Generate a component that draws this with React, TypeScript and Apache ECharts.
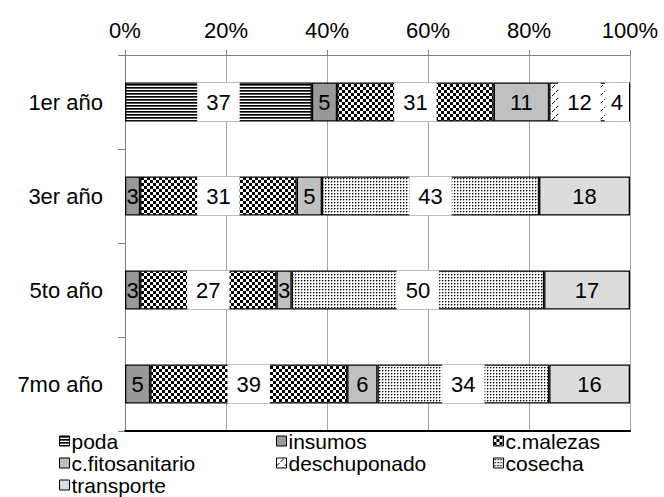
import React, { useEffect, useRef } from "react";
import * as echarts from "echarts";

const categories = ["1er año", "3er año", "5to año", "7mo año"];
const poda = [37, 0, 0, 0];
const insumos = [5, 3, 3, 5];
const cMalezas = [31, 31, 27, 39];
const cFitosanitario = [11, 5, 3, 6];
const deschuponado = [12, 0, 0, 0];
const cosecha = [4, 43, 50, 34];
const transporte = [0, 18, 17, 16];

// legend layout: three columns, items listed column by column
const legendColumns = [
  ["poda", "c.fitosanitario", "transporte"],
  ["insumos", "deschuponado"],
  ["c.malezas", "cosecha"],
];

const FONT = 'Arial, "Liberation Sans", sans-serif';

// Small bitmap tiles used as repeating fills; the callback returns a pixel colour or null
function tile(w: number, h: number, pixel: (x: number, y: number) => string | null) {
  const c = document.createElement("canvas");
  c.width = w;
  c.height = h;
  const ctx = c.getContext("2d")!;
  ctx.fillStyle = "#fff";
  ctx.fillRect(0, 0, w, h);
  for (let y = 0; y < h; y++)
    for (let x = 0; x < w; x++) {
      const col = pixel(x, y);
      if (col) {
        ctx.fillStyle = col;
        ctx.fillRect(x, y, 1, 1);
      }
    }
  return { image: c, repeat: "repeat" as const };
}

export default function App() {
  const ref = useRef<HTMLDivElement>(null);

  useEffect(() => {
    if (!ref.current) return;
    const chart = echarts.init(ref.current, null, { renderer: "svg" });

    const stripes = tile(4, 3, (_x, y) => (y === 0 ? "#000" : y === 1 ? "#555" : null));
    const checker = tile(6, 6, (x, y) =>
      (Math.floor(x / 3) + Math.floor(y / 3)) % 2 === 0 ? "#000" : null
    );
    const dots = tile(3, 3, (x, y) =>
      x === 1 && y === 1 ? "#000" : (x === 2 && y === 1) || (x === 1 && y === 2) ? "#999" : null
    );
    const hatch = tile(8, 8, (x, y) => (x + y === 7 && x % 4 !== 3 ? "#000" : null));

    const labelFor = (white: boolean) => ({
      show: true,
      position: "inside" as const,
      color: "#000",
      fontFamily: FONT,
      fontSize: 22,
      lineHeight: 22,
      backgroundColor: white ? "#fff" : "transparent",
      padding: [8, 9, 9, 9],
      formatter: (p: any) => `${p.value}`,
    });

    const mk = (name: string, values: number[], color: any, white: boolean) => ({
      name,
      type: "bar" as const,
      stack: "total",
      barWidth: 39,
      data: values.map((v) =>
        v === 0
          ? null
          : v < 6 && white
          ? { value: v, label: { padding: [8, 6, 9, 6], offset: [-3, 0] } }
          : v
      ),
      itemStyle: { color, borderColor: "#000", borderWidth: 1.3 },
      label: labelFor(white),
    });

    const colLeft = [59, 276, 493];
    const rowTop = [430, 452, 474];
    const legends: any[] = [];
    legendColumns.forEach((names, c) =>
      names.forEach((name, r) =>
        legends.push({
          data: [name],
          left: colLeft[c],
          top: rowTop[r],
          padding: 0,
          itemWidth: 10,
          itemHeight: 10,
          icon: "rect",
          selectedMode: false,
          itemStyle: { borderColor: "#000", borderWidth: 1 },
          textStyle: {
            fontFamily: FONT,
            fontSize: 21,
            lineHeight: 22,
            color: "#000",
            padding: [0, 0, 0, -3],
          },
        })
      )
    );

    chart.setOption({
      animation: false,
      backgroundColor: "#fff",
      grid: { left: 125, right: 34, top: 55, bottom: 66, containLabel: false },
      legend: legends,
      xAxis: [
        {
          type: "value",
          position: "top",
          min: 0,
          max: 100,
          interval: 20,
          axisLine: { show: true, lineStyle: { color: "#808080", width: 1 } },
          axisTick: { show: true, length: 5, lineStyle: { color: "#808080" } },
          axisLabel: {
            formatter: "{value}%",
            fontFamily: FONT,
            fontSize: 22,
            color: "#000",
            margin: 14,
          },
          splitLine: { show: true, lineStyle: { color: "#a6a6a6", width: 1 } },
        },
        {
          type: "value",
          position: "bottom",
          min: 0,
          max: 100,
          axisLine: { show: true, onZero: false, lineStyle: { color: "#000", width: 2 } },
          axisTick: { show: false },
          axisLabel: { show: false },
          splitLine: { show: false },
        },
      ],
      yAxis: {
        type: "category",
        inverse: true,
        data: categories,
        axisLine: { show: true, lineStyle: { color: "#808080", width: 1 } },
        axisTick: { show: true, length: 7, lineStyle: { color: "#808080" } },
        axisLabel: { fontFamily: FONT, fontSize: 22, color: "#000", margin: 22 },
      },
      series: [
        mk("poda", poda, stripes, true),
        mk("insumos", insumos, "#999999", false),
        mk("c.malezas", cMalezas, checker, true),
        mk("c.fitosanitario", cFitosanitario, "#c0c0c0", false),
        mk("deschuponado", deschuponado, hatch, true),
        mk("cosecha", cosecha, dots, true),
        mk("transporte", transporte, "#dcdcdc", false),
      ],
    });

    return () => chart.dispose();
  }, []);

  return (
    <div
      ref={ref}
      style={{ position: "fixed", left: 0, top: 0, width: 664, height: 497 }}
    />
  );
}
